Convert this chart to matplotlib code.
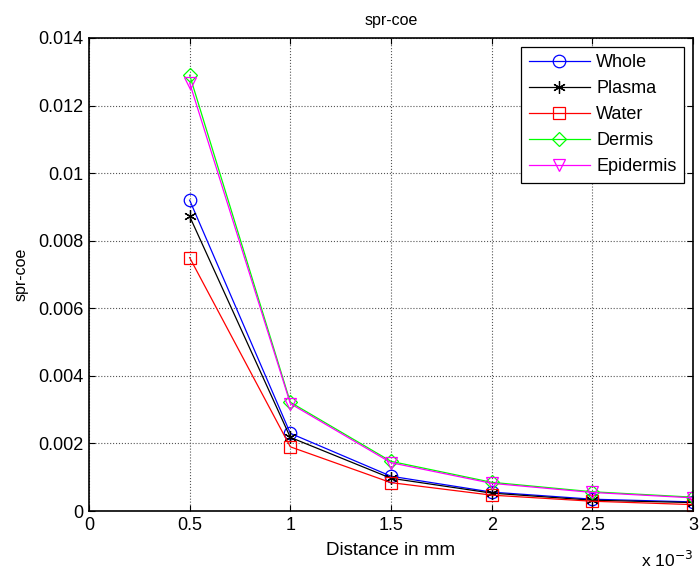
import matplotlib
matplotlib.use("Agg")
import matplotlib.pyplot as plt

plt.rcParams['font.family'] = ['Liberation Sans', 'DejaVu Sans']

distance = [0.5, 1.0, 1.5, 2.0, 2.5, 3.0]  # x 10^-3
whole = [0.00920, 0.00230, 0.00103, 0.00056, 0.00035, 0.00027]
plasma = [0.00872, 0.00218, 0.00097, 0.00053, 0.00032, 0.00025]
water = [0.00750, 0.00190, 0.00084, 0.00047, 0.00029, 0.00019]
dermis = [0.01290, 0.00322, 0.00147, 0.00085, 0.00057, 0.00041]
epidermis = [0.01267, 0.00318, 0.00143, 0.00082, 0.00055, 0.00039]

series = [
    ("Whole", whole, "blue", "o"),
    ("Plasma", plasma, "black", (6, 2, 0)),
    ("Water", water, "red", "s"),
    ("Dermis", dermis, "#00ff00", "D"),
    ("Epidermis", epidermis, "magenta", "v"),
]

fig = plt.figure(figsize=(6.99, 5.72), dpi=100)
ax = fig.add_axes([0.1273, 0.1066, 0.8641, 0.827])

for name, vals, col, mk in series:
    ms = 9 if mk != "D" else 7
    ax.plot(distance, vals, color=col, marker=mk, markerfacecolor='none',
            markeredgecolor=col, markersize=ms, linewidth=0.9,
            markeredgewidth=0.9, label=name)

ax.set_xlim(0, 3)
ax.set_ylim(0, 0.014)
ax.set_xticks([0, 0.5, 1, 1.5, 2, 2.5, 3])
ax.set_xticklabels(["0", "0.5", "1", "1.5", "2", "2.5", "3"])
ax.set_yticks([0, 0.002, 0.004, 0.006, 0.008, 0.01, 0.012, 0.014])
ax.set_yticklabels(["0", "0.002", "0.004", "0.006", "0.008", "0.01", "0.012", "0.014"])
ax.grid(True, linestyle=':', color='#555555', linewidth=0.8)
ax.tick_params(direction='in', top=True, right=True, labelsize=13, length=4, width=0.8, pad=4)
for s in ax.spines.values():
    s.set_linewidth(1.2)
    s.set_color('black')

ax.set_title("spr-coe", fontsize=11.5, pad=9)
ax.set_xlabel("Distance in mm", fontsize=13.5, labelpad=6)
ax.set_ylabel("spr-coe", fontsize=11.5, labelpad=7)
ax.text(1.0, -0.083, r"x 10$^{-3}$", transform=ax.transAxes, ha='right', va='top', fontsize=12.5)

leg = ax.legend(loc='upper right', fontsize=13, handlelength=3.4, handletextpad=0.35,
                fancybox=False, edgecolor='black', framealpha=1, borderaxespad=0.5,
                labelspacing=0.5, borderpad=0.4)
leg.get_frame().set_linewidth(0.9)

fig.savefig("out.png", dpi=100)
